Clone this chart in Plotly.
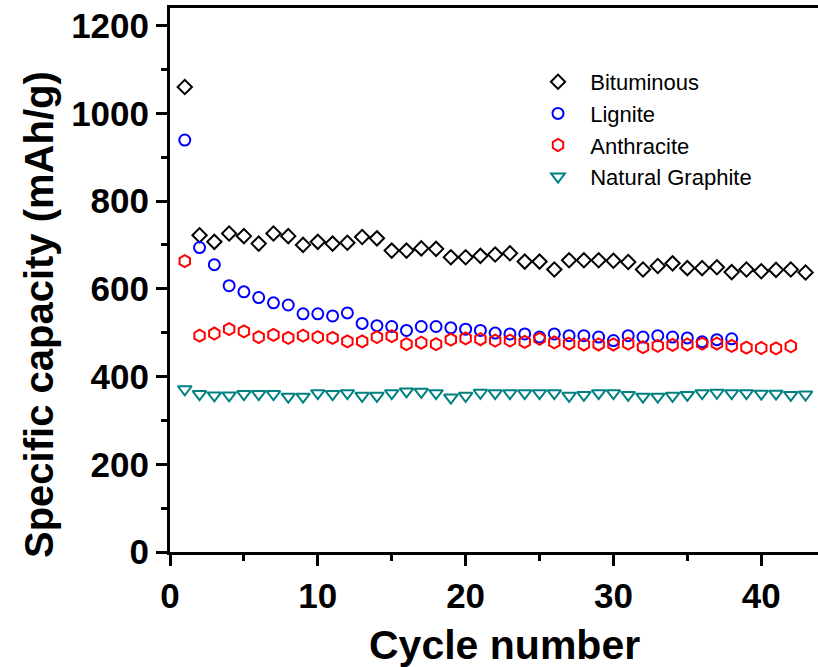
import plotly.graph_objects as go

# Cycle index for each sample
cycles_bit = list(range(1, 44))
cycles_lig = list(range(1, 39))
cycles_ant = list(range(1, 43))
cycles_gra = list(range(1, 44))

# Specific capacity (mAh/g)
bituminous = [1060, 722, 707, 726, 720, 703, 726, 720, 700, 707,
              703, 705, 718, 715, 687, 687, 692, 691, 672, 672,
              675, 678, 681, 662, 662, 644, 665, 665, 665, 664,
              661, 644, 652, 658, 647, 647, 649, 638, 644, 640,
              643, 644, 637]
lignite = [939, 694, 655, 607, 593, 580, 568, 563, 543, 543,
           538, 545, 521, 516, 514, 505, 514, 514, 511, 508,
           505, 499, 497, 497, 490, 497, 493, 493, 490, 482,
           493, 490, 493, 490, 488, 479, 484, 486]
anthracite = [663, 493, 498, 508, 503, 490, 495, 488, 493, 490,
              488, 480, 480, 490, 492, 474, 477, 474, 484, 487,
              485, 482, 482, 479, 486, 478, 475, 473, 473, 473,
              475, 467, 470, 472, 473, 475, 475, 470, 466, 465,
              464, 469]
graphite = [371, 360, 357, 357, 360, 360, 360, 354, 354, 362,
            360, 362, 356, 356, 362, 366, 365, 362, 352, 356,
            363, 362, 362, 362, 362, 362, 356, 358, 362, 362,
            358, 354, 354, 356, 358, 362, 363, 362, 362, 361,
            361, 358, 359]

x_ticks = [0, 10, 20, 30, 40]
y_ticks = [0, 200, 400, 600, 800, 1000, 1200]

FONT = "Arial, Liberation Sans, sans-serif"
NB = "\u00a0\u00a0"

series = [
    ("Bituminous", cycles_bit, bituminous, "diamond-open", "#000000", 11),
    ("Lignite", cycles_lig, lignite, "circle-open", "#0000FF", 11),
    ("Anthracite", cycles_ant, anthracite, "hexagon-open", "#FF0000", 12),
    ("Natural Graphite", cycles_gra, graphite, "triangle-down-open", "#008080", 12),
]

fig = go.Figure()
for name, xs, ys, sym, col, sz in series:
    fig.add_trace(go.Scatter(
        x=xs, y=ys, mode="markers", name=NB + name,
        marker=dict(symbol=sym, size=sz, color=col, line=dict(width=2, color=col)),
        cliponaxis=False,
    ))

axis_common = dict(
    showgrid=False, zeroline=False, showline=True, linecolor="black", linewidth=3,
    ticks="outside", ticklen=11, tickwidth=3, tickcolor="black",
    tickfont=dict(family=FONT, size=35, color="black", weight="bold"),
)

fig.update_xaxes(
    range=[0, 43.84], tickvals=x_ticks, mirror=True,
    minor=dict(dtick=5, ticks="outside", ticklen=6, tickwidth=3, tickcolor="black"),
    **axis_common,
)
fig.update_yaxes(
    range=[0, 1240], tickvals=y_ticks,
    minor=dict(dtick=100, ticks="outside", ticklen=6, tickwidth=3, tickcolor="black"),
    **axis_common,
)

fig.add_annotation(
    text="Specific capacity (mAh/g)", textangle=-90, showarrow=False,
    xref="paper", yref="paper", x=(39 - 170) / 648, y=(552 - 315) / 544,
    xanchor="center", yanchor="middle",
    font=dict(family=FONT, size=40, color="black", weight="bold"),
)
fig.add_annotation(
    text="Cycle number", showarrow=False,
    xref="paper", yref="paper", x=(504 - 170) / 648, y=(552 - 645) / 544,
    xanchor="center", yanchor="middle",
    font=dict(family=FONT, size=41, color="black", weight="bold"),
)

fig.update_layout(
    width=818, height=667,
    margin=dict(l=170, r=0, t=8, b=115),
    plot_bgcolor="white", paper_bgcolor="white",
    showlegend=True,
    legend=dict(
        x=(538 - 170) / 648, y=(552 - 61) / 544, xanchor="left", yanchor="top",
        font=dict(family=FONT, size=22, color="black"),
        bgcolor="rgba(0,0,0,0)", borderwidth=0,
    ),
)

fig.write_html("out.html")
